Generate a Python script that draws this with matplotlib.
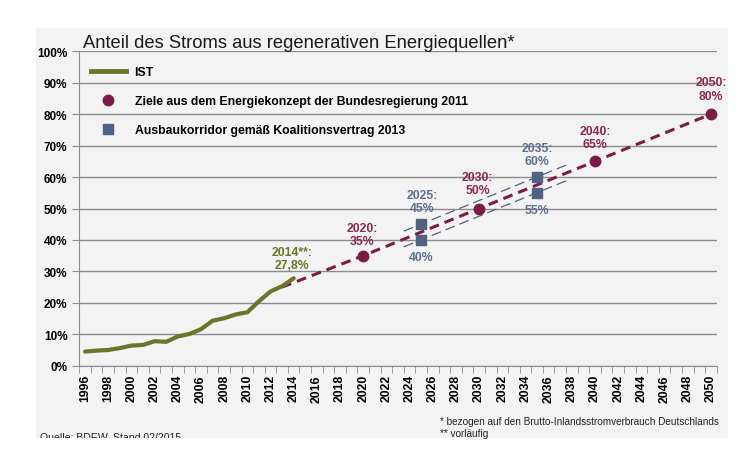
import matplotlib.pyplot as plt
import matplotlib.ticker as mticker
from matplotlib.lines import Line2D
from matplotlib.patches import Rectangle

plt.rcParams['font.family'] = ['Liberation Sans', 'DejaVu Sans']

# historische Werte (IST)
ist_years = [1996, 1997, 1998, 1999, 2000, 2001, 2002, 2003, 2004, 2005,
             2006, 2007, 2008, 2009, 2010, 2011, 2012, 2013, 2014]
ist_values = [4.5, 4.8, 5.0, 5.6, 6.4, 6.6, 7.8, 7.6, 9.3, 10.1,
              11.6, 14.3, 15.1, 16.3, 17.0, 20.5, 23.6, 25.3, 27.8]

# Ziele Energiekonzept 2011
ziel_years = [2020, 2030, 2040, 2050]
ziel_values = [35, 50, 65, 80]
ziel_line_years = [2013, 2020, 2030, 2040, 2050]
ziel_line_values = [25.0, 35, 50, 65, 80]

# Ausbaukorridor Koalitionsvertrag 2013
korr_years = [2025, 2025, 2035, 2035]
korr_values = [45, 40, 60, 55]
korr_line_years = [2023.5, 2037.5]
korr_upper = [42.8, 63.8]
korr_lower = [37.8, 58.8]

year_labels = list(range(1996, 2051, 2))

olive = '#68762a'
purple = '#7b1c48'
purple_txt = '#8a2b55'
slate = '#4f6281'
slate_txt = '#5d7090'
grid_c = '#8c8c8c'
panel_c = '#f3f3f3'

fig = plt.figure(figsize=(7.42, 4.52), dpi=100)
fig.patch.set_facecolor('white')
panel = Rectangle((36 / 742, 1 - 438.7 / 452), 692 / 742, 409.4 / 452,
                  transform=fig.transFigure, facecolor=panel_c, edgecolor='none', zorder=-5)
fig.patches.append(panel)

ax = fig.add_axes([79.3 / 742, 1 - 366.7 / 452, (716.7 - 79.3) / 742, (366.7 - 52.3) / 452])
ax.set_facecolor('none')
ax.set_zorder(1)

ax.set_xlim(1995.5, 2050.5)
ax.set_ylim(0, 100)

ax.yaxis.set_major_locator(mticker.MultipleLocator(10))
ax.yaxis.set_major_formatter(mticker.FuncFormatter(lambda v, p: '%d%%' % v))
ax.grid(axis='y', color=grid_c, linewidth=1)
ax.set_axisbelow(True)

ax.set_xticks(year_labels)
ax.set_xticklabels([str(y) for y in year_labels], rotation=90, fontweight='bold', fontsize=8.8)
ax.set_xticks([y - 0.5 for y in range(1996, 2052)], minor=True)
ax.tick_params(axis='x', which='major', length=0, pad=6)
ax.tick_params(axis='x', which='minor', length=5, color=grid_c, direction='out')
ax.tick_params(axis='y', length=5, color=grid_c, labelsize=8.5)
for lbl in ax.get_yticklabels():
    lbl.set_fontweight('bold')

for s in ['top', 'right']:
    ax.spines[s].set_visible(False)
for s in ['left', 'bottom']:
    ax.spines[s].set_color(grid_c)

# Korridor
ax.plot(korr_line_years, korr_upper, color=slate, lw=0.9, dashes=(8, 4), zorder=2)
ax.plot(korr_line_years, korr_lower, color=slate, lw=0.9, dashes=(8, 4), zorder=2)

ax.plot(ist_years, ist_values, color=olive, lw=3, solid_capstyle='round', zorder=4)
ax.plot(ziel_line_years, ziel_line_values, color=purple, lw=2.2, dashes=(3.2, 2.0), zorder=3)
ax.plot(ziel_years, ziel_values, 'o', color=purple, markersize=7.5, zorder=5)
ax.plot(korr_years, korr_values, 's', color=slate, markersize=7.5, zorder=5)

lab_kw = dict(textcoords='offset points', ha='center', fontsize=8.8,
              fontweight='bold', linespacing=1.15)
ax.annotate('2014**:\n27,8%', (2014, 27.8), xytext=(-1, 5), va='bottom', color=olive, **lab_kw)
ax.annotate('2020:\n35%', (2020, 35), xytext=(-1, 6), va='bottom', color=purple_txt, **lab_kw)
ax.annotate('2030:\n50%', (2030, 50), xytext=(-1, 9), va='bottom', color=purple_txt, **lab_kw)
ax.annotate('2040:\n65%', (2040, 65), xytext=(0, 8), va='bottom', color=purple_txt, **lab_kw)
ax.annotate('2050:\n80%', (2050, 80), xytext=(0, 9), va='bottom', color=purple_txt, **lab_kw)
ax.annotate('2025:\n45%', (2025, 45), xytext=(1, 7), va='bottom', color=slate_txt, **lab_kw)
ax.annotate('2035:\n60%', (2035, 60), xytext=(0, 7), va='bottom', color=slate_txt, **lab_kw)
ax.annotate('40%', (2025, 40), xytext=(0, -8), va='top', color=slate_txt, **lab_kw)
ax.annotate('55%', (2035, 55), xytext=(0, -8), va='top', color=slate_txt, **lab_kw)

handles = [
    Line2D([], [], color=olive, lw=3.5),
    Line2D([], [], color=purple, marker='o', linestyle='none', markersize=7.5),
    Line2D([], [], color=slate, marker='s', linestyle='none', markersize=7.5),
]
labels = ['IST', 'Ziele aus dem Energiekonzept der Bundesregierung 2011',
          'Ausbaukorridor gemäß Koalitionsvertrag 2013']
leg = ax.legend(handles, labels, loc='upper left', bbox_to_anchor=(0.01, 0.968),
                frameon=False, prop={'weight': 'bold', 'size': 8.8},
                handlelength=2.9, handletextpad=0.7, labelspacing=1.4, borderaxespad=0)

fig.text(83 / 742, 1 - 43 / 452, 'Anteil des Stroms aus regenerativen Energiequellen*',
         fontsize=13.2, color='#1a1a1a', va='center', ha='left')

fig.text(440 / 742, 1 - 422 / 452, '* bezogen auf den Brutto-Inlandsstromverbrauch Deutschlands',
         fontsize=7.2, va='center', ha='left', color='#222222')
fig.text(440 / 742, 1 - 434 / 452, '** vorläufig',
         fontsize=7.2, va='center', ha='left', color='#222222')
q = fig.text(40 / 742, 1 - 438 / 452, 'Quelle: BDEW, Stand 02/2015',
             fontsize=7.6, va='center', ha='left', color='#222222')
q.set_clip_on(True)
q.set_clip_path(panel)

fig.savefig('out.png', dpi=100, facecolor='white')
